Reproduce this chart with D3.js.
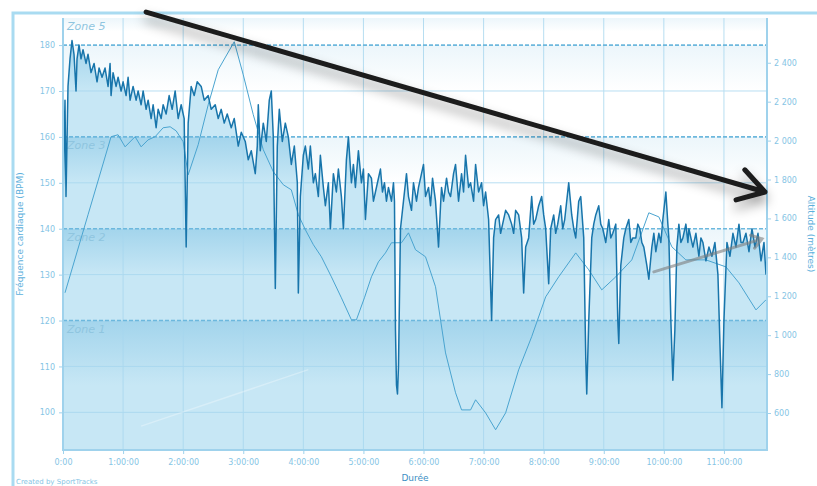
<!DOCTYPE html>
<html>
<head>
<meta charset="utf-8">
<script src="https://cdn.jsdelivr.net/npm/d3@7"></script>
<style>
  body { margin: 0; background: #fff; }
  svg { display: block; font-family: 'DejaVu Sans', sans-serif; }
</style>
</head>
<body>
<svg></svg>
<script>
// heart rate samples: [minutes, bpm]
const hrSamples = [[0,146],[2,168],[3,147],[5,171],[7,177],[9,181],[11,178],[13,170],[14,177],[16,180],[18,177],[20,179],[23,176],[25,178],[28,174],[31,176],[34,172],[36,175],[39,173],[42,175],[45,171],[47,176],[48,169],[50,174],[53,171],[55,173],[58,170],[60,172],[63,169],[65,173],[67,168],[70,171],[73,168],[75,170],[78,167],[80,170],[83,166],[85,168],[88,164],[90,167],[93,162],[95,166],[98,164],[100,167],[103,165],[106,169],[109,166],[112,170],[115,164],[118,167],[121,164],[123,136],[125,163],[128,171],[131,169],[134,172],[138,171],[141,168],[145,169],[148,166],[152,167],[155,164],[158,166],[161,163],[164,165],[168,162],[171,164],[175,158],[178,161],[182,159],[185,155],[188,157],[192,152],[194,158],[195,167],[197,157],[200,163],[203,159],[206,168],[208,170],[210,160],[212,127],[214,158],[216,166],[219,159],[222,163],[225,160],[228,154],[231,158],[234,150],[235,126],[237,147],[240,156],[242,158],[245,153],[247,158],[250,150],[252,152],[255,147],[257,156],[260,149],[262,145],[265,150],[267,140],[270,152],[273,148],[275,153],[278,147],[280,140],[283,155],[285,160],[288,150],[290,154],[292,149],[295,157],[298,150],[300,153],[302,142],[305,152],[308,151],[310,146],[312,148],[315,151],[317,153],[319,148],[321,150],[323,146],[325,149],[328,146],[330,150],[331,146],[332,118],[333,106],[334,104],[335,110],[337,140],[340,146],[343,152],[345,147],[348,144],[350,150],[353,146],[355,149],[358,152],[360,154],[362,147],[365,149],[367,145],[369,151],[372,146],[375,136],[377,145],[378,149],[380,146],[383,151],[385,148],[387,147],[390,152],[392,154],[395,146],[398,152],[400,148],[402,156],[405,149],[407,150],[410,146],[412,154],[415,148],[418,150],[420,145],[422,148],[425,142],[428,120],[430,138],[432,142],[435,143],[437,139],[439,141],[442,144],[445,143],[448,141],[450,139],[452,144],[455,143],[458,138],[460,126],[462,136],[465,138],[468,147],[470,141],[472,142],[475,145],[478,147],[480,143],[482,140],[485,128],[487,140],[490,143],[492,139],[494,141],[497,145],[499,140],[501,142],[503,146],[505,150],[508,143],[510,140],[512,138],[515,146],[517,147],[519,141],[520,138],[522,112],[523,104],[525,120],[528,138],[530,141],[532,143],[535,145],[537,141],[539,140],[542,137],[545,142],[547,138],[549,139],[552,141],[554,120],[555,115],[557,132],[560,138],[562,140],[565,142],[567,137],[569,138],[572,138],[574,141],[576,140],[578,137],[580,136],[583,132],[585,129],[588,136],[590,139],[592,135],[595,139],[597,137],[599,142],[602,148],[604,141],[605,138],[607,120],[609,107],[611,118],[613,136],[615,141],[617,137],[619,138],[622,141],[624,137],[625,140],[627,138],[629,136],[632,139],[635,134],[637,138],[639,137],[642,133],[645,136],[648,134],[651,137],[654,130],[656,115],[658,101],[660,120],[663,137],[666,134],[669,139],[672,136],[675,141],[677,137],[679,137],[682,139],[685,135],[688,140],[691,136],[694,139],[697,133],[700,137],[702,130]];

// altitude samples: [minutes, metres]
const altSamples = [[2,1218],[25,1619],[48,2020],[55,2030],[62,1968],[72,2020],[78,1968],[85,2004],[92,2020],[100,2066],[107,2071],[113,2050],[120,1994],[125,1824],[135,1979],[145,2184],[155,2364],[171,2508],[180,2338],[190,2133],[200,1953],[210,1840],[220,1773],[228,1747],[235,1619],[242,1542],[250,1465],[258,1403],[268,1300],[278,1192],[288,1079],[293,1079],[301,1192],[308,1300],[315,1377],[322,1423],[328,1475],[338,1475],[345,1526],[352,1439],[362,1403],[372,1249],[382,909],[392,704],[398,616],[407,616],[412,668],[422,601],[432,514],[442,601],[455,822],[468,992],[482,1197],[495,1300],[512,1423],[525,1336],[538,1233],[552,1300],[568,1387],[585,1629],[595,1608],[608,1454],[622,1387],[642,1387],[662,1351],[675,1269],[692,1130],[702,1182]];

const hrTicks = [100, 110, 120, 130, 140, 150, 160, 170, 180];
const altTicks = [600, 800, 1000, 1200, 1400, 1600, 1800, 2000, 2200, 2400];
const timeTicks = [0, 60, 120, 180, 240, 300, 360, 420, 480, 540, 600, 660];
const zoneBounds = [120, 140, 160, 180];
const zoneNames = ['Zone 1', 'Zone 2', 'Zone 3', '', 'Zone 5'];

// annotations drawn on top of the screenshot, in data units [minutes, bpm]
const blackArrow = [[83, 187.2], [701, 148.0]];
const greyArrow = [[590, 130.6], [698, 137.8]];
const faintLine = [[78, 97.0], [245, 109.3]];

const width = 817, height = 486;
const margin = {top: 18, right: 50, bottom: 36, left: 63};
const plotR = width - margin.right, plotB = height - margin.bottom;

const svg = d3.select('svg').attr('width', width).attr('height', height);
const defs = svg.append('defs');

const x = d3.scaleLinear().domain([0, 703]).range([margin.left, plotR]);
const yHr = d3.scaleLinear().domain([91.8, 185.9]).range([plotB, margin.top]);
const yAlt = d3.scaleLinear().domain([410, 2630]).range([plotB, margin.top]);

// gradients for the zone bands
const addGrad = (id, op) => {
  const g = defs.append('linearGradient').attr('id', id)
    .attr('x1', 0).attr('y1', 0).attr('x2', 0).attr('y2', 1);
  g.append('stop').attr('offset', 0).attr('stop-color', '#7fc2e3').attr('stop-opacity', op);
  g.append('stop').attr('offset', 0.5).attr('stop-color', '#7fc2e3').attr('stop-opacity', 0);
};
addGrad('bandBg', 0.15);
addGrad('bandIn', 0.5);

const shadow = defs.append('filter').attr('id', 'shadow')
  .attr('x', '-20%').attr('y', '-50%').attr('width', '140%').attr('height', '200%');
shadow.append('feDropShadow').attr('dx', 0).attr('dy', 7)
  .attr('stdDeviation', 6).attr('flood-color', '#000').attr('flood-opacity', 0.4);

// outer frame
svg.append('path').attr('d', `M13,${height} V13 H${width}`)
  .attr('fill', 'none').attr('stroke', '#a9dbf1').attr('stroke-width', 3);

// plot background
svg.append('rect').attr('x', margin.left).attr('y', margin.top)
  .attr('width', plotR - margin.left).attr('height', plotB - margin.top).attr('fill', '#fff');

const bands = [91.8, ...zoneBounds, 185.9];
const bandData = d3.range(bands.length - 1).map(i => ({lo: bands[i], hi: bands[i + 1], name: zoneNames[i]}));

const bandRects = (g, fill) => g.selectAll('rect').data(bandData).enter().append('rect')
  .attr('x', margin.left).attr('width', plotR - margin.left)
  .attr('y', d => yHr(d.hi)).attr('height', d => yHr(d.lo) - yHr(d.hi))
  .attr('fill', fill);

bandRects(svg.append('g'), 'url(#bandBg)');

// heart rate area
const area = d3.area().x(d => x(d[0])).y0(plotB).y1(d => yHr(d[1]));
defs.append('clipPath').attr('id', 'hrClip').append('path').attr('d', area(hrSamples));
defs.append('clipPath').attr('id', 'plotClip').append('rect')
  .attr('x', margin.left).attr('y', margin.top)
  .attr('width', plotR - margin.left).attr('height', plotB - margin.top);

svg.append('path').attr('d', area(hrSamples)).attr('fill', '#c7e7f5');
bandRects(svg.append('g').attr('clip-path', 'url(#hrClip)'), 'url(#bandIn)');

// grid
const grid = svg.append('g').attr('stroke', '#a6d6ee').attr('stroke-width', 1).attr('opacity', 0.8);
grid.selectAll('line.v').data(timeTicks.slice(1)).enter().append('line')
  .attr('x1', d => x(d)).attr('x2', d => x(d)).attr('y1', margin.top).attr('y2', plotB);
grid.selectAll('line.h').data(hrTicks.filter(d => !zoneBounds.includes(d))).enter().append('line')
  .attr('x1', margin.left).attr('x2', plotR).attr('y1', d => yHr(d)).attr('y2', d => yHr(d));

svg.append('g').selectAll('line').data(zoneBounds).enter().append('line')
  .attr('x1', margin.left).attr('x2', plotR).attr('y1', d => yHr(d)).attr('y2', d => yHr(d))
  .attr('stroke', '#6db8dd').attr('stroke-width', 1.6).attr('stroke-dasharray', '4,2');

// zone labels
svg.append('g').selectAll('text').data(bandData).enter().append('text')
  .attr('x', margin.left + 4)
  .attr('y', d => Math.max(yHr(d.hi), margin.top) + 12)
  .text(d => d.name)
  .attr('font-size', 11).attr('font-style', 'italic')
  .attr('fill', '#8fc5df');

// altitude line
const plot = svg.append('g').attr('clip-path', 'url(#plotClip)');
plot.append('path').datum(altSamples)
  .attr('d', d3.line().x(d => x(d[0])).y(d => yAlt(d[1])))
  .attr('fill', 'none').attr('stroke', '#4aa4d0').attr('stroke-width', 1);

// heart rate line
plot.append('path').datum(hrSamples)
  .attr('d', d3.line().x(d => x(d[0])).y(d => yHr(d[1])))
  .attr('fill', 'none').attr('stroke', '#1875ab').attr('stroke-width', 1.5)
  .attr('stroke-linejoin', 'round');

// plot frame
svg.append('path').attr('d', `M${margin.left},${margin.top} V${plotB} H${plotR} V${margin.top}`)
  .attr('fill', 'none').attr('stroke', '#9fd2ec').attr('stroke-width', 2);

// axes
const styleAxis = g => {
  g.select('.domain').remove();
  g.selectAll('.tick line').attr('stroke', '#9fd2ec');
  g.selectAll('.tick text').attr('fill', '#86c5e5').attr('font-size', 8)
    .attr('font-family', "'DejaVu Sans', sans-serif");
};
const altFormat = d => d3.format(',')(d).replace(',', ' ');
const timeFormat = d => d === 0 ? '0:00' : `${d / 60}:00:00`;

svg.append('g').attr('transform', `translate(${margin.left},0)`)
  .call(d3.axisLeft(yHr).tickValues(hrTicks).tickSize(4).tickPadding(4))
  .call(styleAxis);
svg.append('g').attr('transform', `translate(${plotR},0)`)
  .call(d3.axisRight(yAlt).tickValues(altTicks).tickSize(4).tickPadding(3).tickFormat(altFormat))
  .call(styleAxis);
svg.append('g').attr('transform', `translate(0,${plotB})`)
  .call(d3.axisBottom(x).tickValues(timeTicks).tickSize(4).tickPadding(5).tickFormat(timeFormat))
  .call(styleAxis);

// annotations
const line = d3.line().x(d => x(d[0])).y(d => yHr(d[1]));
svg.append('path').datum(faintLine).attr('d', line)
  .attr('stroke', '#fff').attr('stroke-width', 1.5).attr('opacity', 0.3).attr('fill', 'none');

const arrowHead = (pts, len, spread) => {
  const [a, b] = pts.map(p => [x(p[0]), yHr(p[1])]);
  const ang = Math.atan2(b[1] - a[1], b[0] - a[0]);
  const w1 = [b[0] - len * Math.cos(ang - spread), b[1] - len * Math.sin(ang - spread)];
  const w2 = [b[0] - len * Math.cos(ang + spread), b[1] - len * Math.sin(ang + spread)];
  return `M${a[0]},${a[1]} L${b[0]},${b[1]} M${w1[0]},${w1[1]} L${b[0]},${b[1]} L${w2[0]},${w2[1]}`;
};

svg.append('path').attr('d', arrowHead(greyArrow, 12, 0.6))
  .attr('stroke', '#7d7d7d').attr('stroke-width', 3).attr('opacity', 0.6)
  .attr('fill', 'none').attr('stroke-linecap', 'round');

svg.append('path').attr('d', arrowHead(blackArrow, 30, 0.55))
  .attr('stroke', '#1c1c1c').attr('stroke-width', 5).attr('fill', 'none')
  .attr('stroke-linecap', 'round').attr('stroke-linejoin', 'round')
  .attr('filter', 'url(#shadow)');

// titles
svg.append('text').attr('transform', `translate(23,${(margin.top + plotB) / 2}) rotate(-90)`)
  .attr('text-anchor', 'middle').attr('font-size', 9).attr('fill', '#5db0dc')
  .text('Fréquence cardiaque (BPM)');
svg.append('text').attr('transform', `translate(808,${(margin.top + plotB) / 2}) rotate(90)`)
  .attr('text-anchor', 'middle').attr('font-size', 9).attr('fill', '#5db0dc')
  .text('Altitude (mètres)');
svg.append('text').attr('x', (margin.left + plotR) / 2).attr('y', 481)
  .attr('text-anchor', 'middle').attr('font-size', 9).attr('fill', '#3d8fc4')
  .text('Durée');
svg.append('text').attr('x', 16).attr('y', 484)
  .attr('font-size', 7).attr('fill', '#86c5e5')
  .text('Created by SportTracks');
</script>
</body>
</html>
